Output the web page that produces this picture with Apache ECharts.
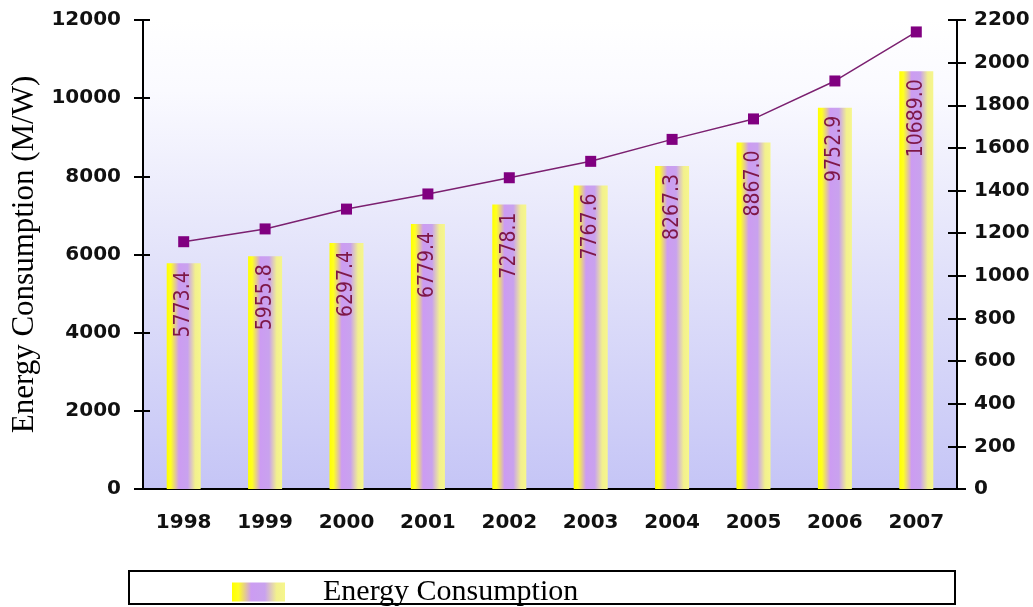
<!DOCTYPE html>
<html>
<head>
<meta charset="utf-8">
<script src="https://cdn.jsdelivr.net/npm/echarts@6/dist/echarts.min.js"></script>
<style>
html,body{margin:0;padding:0;background:#fff;}
#chart{width:1033px;height:607px;}
</style>
</head>
<body>
<div id="chart"></div>
<script>
const years = ['1998','1999','2000','2001','2002','2003','2004','2005','2006','2007'];
const energy = [5773.4, 5955.8, 6297.4, 6779.4, 7278.1, 7767.6, 8267.3, 8867.0, 9752.9, 10689.0];
const trend = [1160, 1220, 1313, 1384, 1460, 1537, 1640, 1736, 1914, 2144];
const leftTicks = {min: 0, max: 12000, interval: 2000};
const rightTicks = {min: 0, max: 2200, interval: 200};
const seriesName = 'Energy Consumption';
const axisTitle = 'Energy Consumption (M/W)';

const chart = echarts.init(document.getElementById('chart'));
const tickFont = {fontFamily: 'DejaVu Sans', fontWeight: 'bold', fontSize: 20, color: '#111'};
const plain = v => String(v);
const barGrad = {type:'linear', x:0, y:0, x2:1, y2:0, colorStops:[
  {offset:0, color:'#ffff00'}, {offset:0.12, color:'#ffff22'}, {offset:0.36, color:'#cc9cf2'},
  {offset:0.62, color:'#c9a2ee'}, {offset:0.84, color:'#f2f08e'}, {offset:1, color:'#f6f68c'}]};

chart.setOption({
  animation: false,
  backgroundColor: '#ffffff',
  grid: {left: 143, right: 76, top: 20, bottom: 118, show: true, borderWidth: 0,
    backgroundColor: {type:'linear', x:0, y:0, x2:0, y2:1, colorStops:[
      {offset:0, color:'#ffffff'}, {offset:0.15, color:'#fafaff'}, {offset:0.5, color:'#e3e3fa'}, {offset:1, color:'#c5c5f6'}]}},
  legend: {
    data: [seriesName], left: 227, top: 572, icon: 'rect', itemWidth: 53, itemHeight: 19,
    textStyle: {fontFamily: 'Liberation Serif', fontSize: 30, color: '#000', lineHeight: 30, padding: [0,0,0,33]}
  },
  graphic: [{type:'rect', shape:{x:129, y:571, width:826, height:33}, style:{fill:'none', stroke:'#000', lineWidth:2}, z:-1}],
  xAxis: [
    {type:'category', data: years, position:'bottom',
     axisLine:{lineStyle:{color:'#000', width:2}}, axisTick:{length:7, lineStyle:{color:'#000', width:2}},
     axisLabel: Object.assign({margin: 24}, tickFont), splitLine:{show:false}},
    {type:'category', data: years, position:'bottom',
     axisLine:{show:false}, axisTick:{inside:true, length:6, lineStyle:{color:'#000', width:2}},
     axisLabel:{show:false}, splitLine:{show:false}}
  ],
  yAxis: [
    Object.assign({type:'value', position:'left', name: axisTitle, nameLocation:'middle', nameRotate:90, nameGap:100,
     nameTextStyle:{fontFamily:'Liberation Serif', fontSize:31, color:'#000'},
     axisLine:{show:true, lineStyle:{color:'#000', width:2}}, axisTick:{show:true, length:9, lineStyle:{color:'#000', width:2}},
     axisLabel: Object.assign({margin: 22, formatter: plain}, tickFont), splitLine:{show:false}}, leftTicks),
    Object.assign({type:'value', position:'right',
     axisLine:{show:true, lineStyle:{color:'#000', width:2}}, axisTick:{show:true, length:9, lineStyle:{color:'#000', width:2}},
     axisLabel: Object.assign({margin: 17, formatter: plain}, tickFont), splitLine:{show:false}}, rightTicks),
    Object.assign({type:'value', position:'left',
     axisLine:{show:false}, axisTick:{show:true, inside:true, length:7, lineStyle:{color:'#000', width:2}},
     axisLabel:{show:false}, splitLine:{show:false}}, leftTicks),
    Object.assign({type:'value', position:'right',
     axisLine:{show:false}, axisTick:{show:true, inside:true, length:9, lineStyle:{color:'#000', width:2}},
     axisLabel:{show:false}, splitLine:{show:false}}, rightTicks)
  ],
  series: [
    {name: seriesName, type:'bar', data: energy, yAxisIndex:0, barWidth:34,
     itemStyle:{color: barGrad},
     label:{show:true, position:'insideTop', rotate:90, align:'right', verticalAlign:'middle', distance:8,
       fontFamily:'DejaVu Sans Condensed', fontSize:21, color:'#7e1748',
       formatter: p => p.value.toFixed(1)}},
    {name: 'Trend', type:'line', data: trend, yAxisIndex:1, symbol:'rect', symbolSize:11,
     itemStyle:{color:'#800080'}, lineStyle:{color:'#7b2070', width:1.5}, z:5}
  ]
});
</script>
</body>
</html>
